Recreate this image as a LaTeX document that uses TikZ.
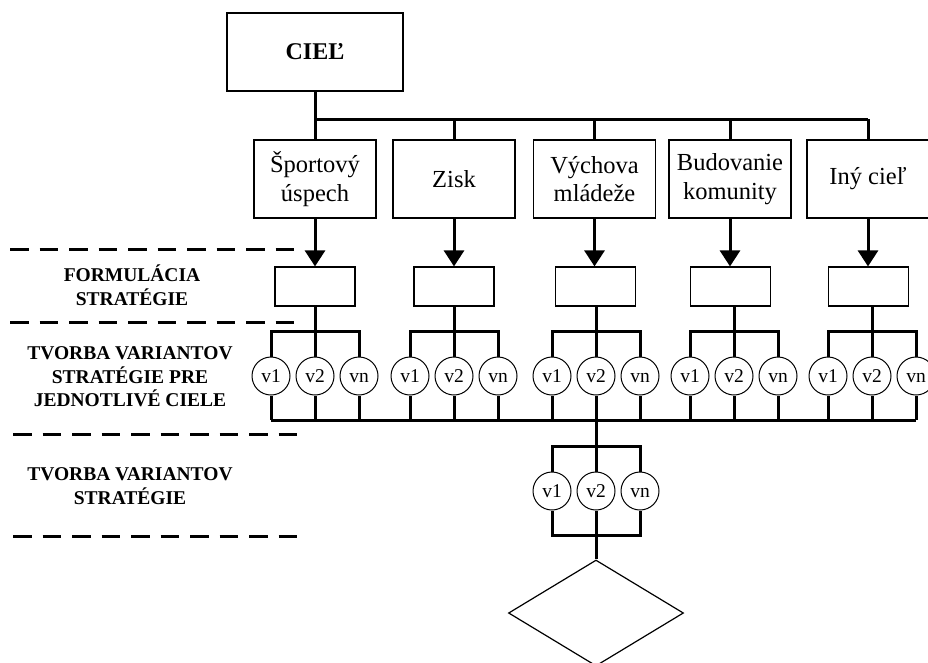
\documentclass[tikz,border=0pt]{standalone}
\usepackage{fontspec}
\setmainfont{Liberation Serif}
\usetikzlibrary{arrows.meta,shapes.geometric}
\begin{document}
\begin{tikzpicture}[x=1pt,y=-1pt,
  topbox/.style={draw,line width=1.2pt,minimum width=176pt,minimum height=78pt,inner sep=0pt,
    font=\fontsize{24}{29}\selectfont\bfseries},
  goalbox/.style={draw,line width=1.2pt,minimum width=122pt,minimum height=78pt,inner sep=0pt,
    align=center,font=\fontsize{24.5}{28.5}\selectfont},
  stratbox/.style={draw,line width=1.2pt,minimum width=80pt,minimum height=39pt,inner sep=0pt},
  variant/.style={circle,draw,line width=1pt,minimum size=38pt,inner sep=0pt,
    text height=13pt,text depth=0pt,font=\fontsize{19.5}{22}\selectfont},
  link/.style={line width=3pt},
  flow/.style={link,-{Triangle[length=16pt,width=20pt]}},
  phase/.style={line width=3pt,dash pattern=on 18.5pt off 11pt},
  phaselabel/.style={align=center,font=\fontsize{19.5}{23.5}\selectfont\bfseries},
  decision/.style={diamond,draw,line width=1.2pt,minimum width=175pt,minimum height=106pt,inner sep=0pt}
]
\useasboundingbox (0,0) rectangle (928,662);
\clip (0,0) rectangle (928,662);

% main goal and its branches
\node[topbox] (goal) at (315,52) {CIEĽ};
\foreach \i/\x/\t in {1/315/{Športový\\úspech},2/454/{Zisk},3/594.5/{Výchova\\mládeže},
                      4/730/{Budovanie\\komunity},5/868/{Iný cieľ}}
  \node[goalbox] (g\i) at (\x,179) {\t};

\coordinate (bus) at (315,119);
\draw[link] (goal.south) -- (g1.north);
\draw[link] (bus) -- (g5.north |- bus);
\foreach \i in {2,...,5}
  \draw[link] (g\i.north |- bus) -- (g\i.north);

% strategy formulation boxes
\foreach \i/\x in {1/315,2/454,3/595.5,4/730.5,5/868.5}
  \node[stratbox] (s\i) at (\x,286.5) {};
\foreach \i in {1,...,5}
  \draw[flow] (g\i.south) -- (g\i.south |- s\i.north);

% strategy variants for each goal
\coordinate (lowbar) at (0,420);
\foreach \i/\c in {1/315,2/454,3/596,4/734,5/872}{
  \coordinate (top\i) at (\c,331);
  \node[variant] (a\i) at (\c-44,376) {v1};
  \node[variant] (b\i) at (\c,376) {v2};
  \node[variant] (n\i) at (\c+44,376) {vn};
  \draw[link] (a\i.north) -- (a\i |- top\i) -- (n\i |- top\i) -- (n\i.north);
  \draw[link] (b\i |- s\i.south) -- (b\i.north);
  \draw[link] (a\i.south) -- (a\i |- lowbar);
  \draw[link] (b\i.south) -- (b\i |- lowbar);
  \draw[link] (n\i.south) -- (n\i |- lowbar);
}
\draw[link] (a1 |- lowbar) -- (n5 |- lowbar);

% combined strategy variants
\node[variant] (f1) at (552,491) {v1};
\node[variant] (f2) at (596,491) {v2};
\node[variant] (fn) at (640,491) {vn};
\coordinate (fintop) at (596,446);
\coordinate (finlow) at (596,535);
\draw[link] (b3.south) -- (f2.north);
\draw[link] (f1.north) -- (f1 |- fintop) -- (fn |- fintop) -- (fn.north);
\draw[link] (f1.south) -- (f1 |- finlow) -- (fn |- finlow) -- (fn.south);
\draw[link] (f2.south) -- (f2 |- finlow);
\node[decision] (dec) at (596,613) {};
\draw[link] (f2 |- finlow) -- (dec.north);

% phase separators and labels
\coordinate (d1a) at (10,249);  \coordinate (d1b) at (295,249);
\coordinate (d2a) at (10,322);  \coordinate (d2b) at (295,322);
\coordinate (d3a) at (13,434);  \coordinate (d3b) at (298,434);
\coordinate (d4a) at (13,536);  \coordinate (d4b) at (298,536);
\foreach \k in {1,...,4}
  \draw[phase] (d\k a) -- (d\k b);

\node[phaselabel] (p1) at (132,285) {FORMULÁCIA\\STRATÉGIE};
\node[phaselabel] (p2) at (130,377) {TVORBA VARIANTOV\\STRATÉGIE PRE\\JEDNOTLIVÉ CIELE};
\node[phaselabel] (p3) at (130,486) {TVORBA VARIANTOV\\STRATÉGIE};
\end{tikzpicture}
\end{document}
